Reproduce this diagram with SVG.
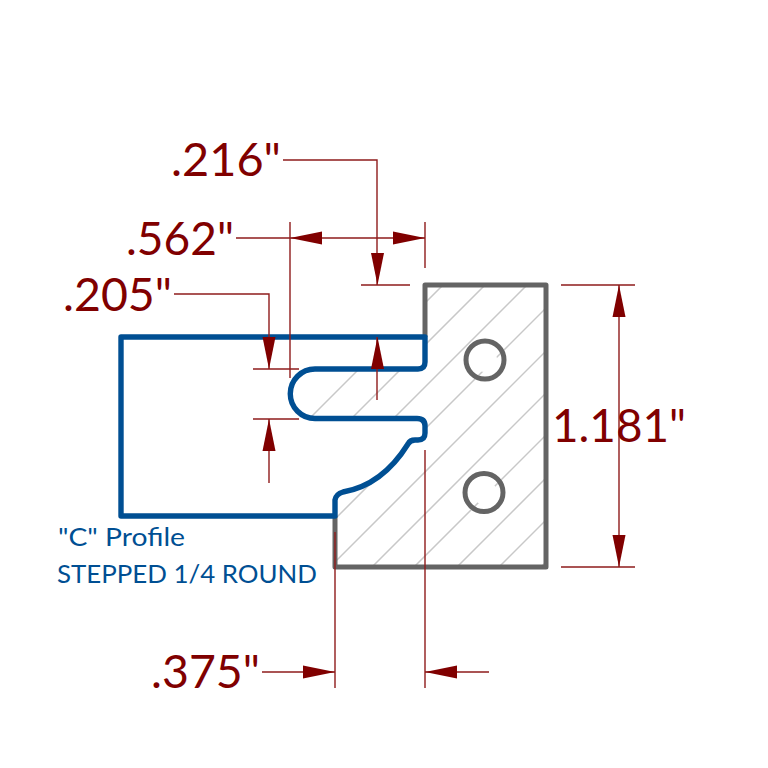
<svg xmlns="http://www.w3.org/2000/svg" width="768" height="768" viewBox="0 0 768 768">
<style>
.hatch{stroke:#c8c8c8;stroke-width:1.5;fill:none}
.grey{stroke:#646464;stroke-width:5;fill:none;stroke-linejoin:round}
.blue{stroke:#004f93;stroke-width:5.4;fill:none;stroke-linejoin:round}
.dim{stroke:#8f1c1c;stroke-width:1.4;fill:none}
.head{fill:#800000;stroke:none}
.val{font-family:"Lato","Open Sans",sans-serif;font-size:46px;fill:#800000}
.note{font-family:"Lato","Open Sans",sans-serif;font-size:25.500px;fill:#004f93}
</style>
<defs>
<clipPath id="body"><path clip-rule="evenodd" d="M425 285H546V567H335V500Q336 495 343 492C372 487 393 468 408 444Q410 440 415 440H418Q425 440 425 433V426Q425 419 417 419H315A25 25 0 0 1 315 369H418Q425 369 425 362ZM497 360A12 12 0 1 0 473 360A12 12 0 1 0 497 360ZM497 493A12 12 0 1 0 473 493A12 12 0 1 0 497 493Z"/></clipPath>
<path id="down" class="head" d="M0 0L-6.500 -32H6.500Z"/>
</defs>
<g id="hatching" clip-path="url(#body)">
<path class="hatch" d="M478 250L250 478M520 250L250 520M562 250L250 562M604 250L250 604M647 250L250 647M689 250L250 689M731 250L250 731M774 250L250 774M816 250L250 816M858 250L250 858"/>
</g>
<g id="tool-body">
<path class="grey" d="M425 337V285H546V567H335V516"/>
<circle class="grey" cx="485" cy="360" r="19"/>
<circle class="grey" cx="484" cy="492.500" r="19"/>
</g>
<g id="profile">
<path class="blue" d="M121 337H425V362Q425 369 418 369H315A24.500 24.500 0 0 0 315 418.500H417Q425 418.500 425 426V433Q425 440 418 440H415Q410 440 408 444C393 468 372 487 343 492Q336 494 335 500V516H121Z"/>
</g>
<g id="connectors">
<path class="dim" d="M283 160H377V285M361 285H410"/>
<path class="dim" d="M236 238H425M290 222V378M425 222V268"/>
<path class="dim" d="M174 294H269V369M253 369H299M253 419H299M269 419V483M377 337V400"/>
<path class="dim" d="M561 285H635M561 567H635M619 285V567"/>
<path class="dim" d="M262 672H335M335 532V688M425 450V688M425 672H489"/>
<use href="#down" x="377.500" y="285"/>
<use href="#down" transform="translate(290 238) rotate(90)"/>
<use href="#down" transform="translate(425 238) rotate(-90)"/>
<use href="#down" x="269" y="369"/>
<use href="#down" transform="translate(269 419) rotate(180)"/>
<use href="#down" transform="translate(377.500 337) rotate(180)"/>
<use href="#down" transform="translate(619 285) rotate(180)"/>
<use href="#down" x="619" y="567"/>
<use href="#down" transform="translate(335 672) rotate(-90)"/>
<use href="#down" transform="translate(425 672) rotate(90)"/>
</g>
<g id="labels">
<text class="val" x="171" y="175.500" textLength="110" lengthAdjust="spacingAndGlyphs">.216"</text>
<text class="val" x="126" y="254.500" textLength="108" lengthAdjust="spacingAndGlyphs">.562"</text>
<text class="val" x="63" y="310.500" textLength="109" lengthAdjust="spacingAndGlyphs">.205"</text>
<text class="val" x="552" y="442" textLength="134" lengthAdjust="spacingAndGlyphs">1.181"</text>
<text class="val" x="151" y="688" textLength="109" lengthAdjust="spacingAndGlyphs">.375"</text>
<text class="note" x="58" y="546" textLength="127" lengthAdjust="spacingAndGlyphs">"C" Profile</text>
<text class="note" x="57" y="583" textLength="260" lengthAdjust="spacingAndGlyphs">STEPPED 1/4 ROUND</text>
</g>
</svg>
